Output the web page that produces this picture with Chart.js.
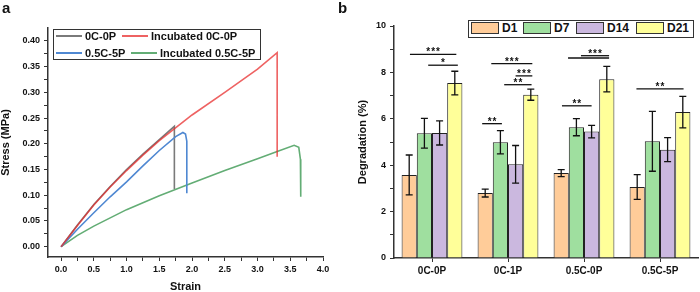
<!DOCTYPE html>
<html>
<head>
<meta charset="utf-8">
<script src="https://cdn.jsdelivr.net/npm/chart.js@4.4.1/dist/chart.umd.min.js"></script>
<style>
body { margin: 0; width: 700px; height: 292px; position: relative; background: #fff; overflow: hidden;
       font-family: "Liberation Sans", Arial, sans-serif; color: #111; }
#pa { position: absolute; left: 0; top: 0; width: 345px; height: 292px; }
#pb { position: absolute; left: 345px; top: 0; width: 355px; height: 292px; }
.tag { position: absolute; font-weight: bold; font-size: 15px; line-height: 15px; }
.box { position: absolute; border: 1.5px solid #333; background: #fff; box-sizing: border-box; }
.it { position: absolute; display: flex; align-items: center; height: 14px; font-weight: bold; white-space: nowrap; }
.ln { display: inline-block; width: 26px; height: 2px; margin-right: 3px; }
.sw { display: inline-block; width: 28px; height: 12px; border: 1px solid #333; box-sizing: border-box; margin-right: 3px; }
</style>
</head>
<body>
<div id="pa"><canvas id="stressChart"></canvas></div>
<div id="pb"><canvas id="degChart"></canvas></div>
<div class="tag" style="left:2px;top:0">a</div>
<div class="tag" style="left:338px;top:0">b</div>

<div class="box" style="left:53px;top:29px;width:208px;height:31px"></div>
<div id="legA"></div>
<div class="box" style="left:468px;top:20px;width:226px;height:18px"></div>
<div id="legB"></div>

<script>
// ---- panel a: stress-strain curves ----
var seriesA = ['0C-0P', 'Incubated 0C-0P', '0.5C-5P', 'Incubated 0.5C-5P'];
var colorsA = ['#7a7a7a', 'rgba(232,45,45,0.75)', '#4f88d2', '#63ad75'];

var grayX = [0, 0.25, 0.5, 0.75, 1.0, 1.25, 1.5, 1.73, 1.73];
var grayY = [0, 0.042, 0.082, 0.117, 0.150, 0.180, 0.208, 0.234, 0.112];
var redX = [0, 0.25, 0.5, 0.75, 1.0, 1.25, 1.5, 2.0, 2.5, 3.0, 3.3, 3.3];
var redY = [0, 0.041, 0.081, 0.116, 0.148, 0.178, 0.206, 0.256, 0.300, 0.345, 0.377, 0.175];
var blueX = [0, 0.25, 0.5, 0.75, 1.0, 1.25, 1.5, 1.75, 1.86, 1.9, 1.92, 1.92];
var blueY = [0, 0.034, 0.066, 0.097, 0.126, 0.157, 0.187, 0.214, 0.222, 0.219, 0.205, 0.104];
var greenX = [0, 0.25, 0.5, 1.0, 1.5, 2.0, 2.5, 3.0, 3.3, 3.56, 3.63, 3.655, 3.66];
var greenY = [0, 0.022, 0.040, 0.072, 0.099, 0.124, 0.148, 0.171, 0.185, 0.197, 0.193, 0.170, 0.097];

var strainTicks = [0, 0.5, 1.0, 1.5, 2.0, 2.5, 3.0, 3.5, 4.0];
var stressTicks = [0, 0.05, 0.10, 0.15, 0.20, 0.25, 0.30, 0.35, 0.40];

// ---- panel b: degradation bars ----
var groups = ['0C-0P', '0C-1P', '0.5C-0P', '0.5C-5P'];
var days = ['D1', 'D7', 'D14', 'D21'];
var barColors = ['#FFCC99', '#9FDF9F', '#CBB8DF', '#FFFF99'];
var d1 = [3.58, 2.80, 3.66, 3.06];
var d7 = [5.38, 4.99, 5.64, 5.03];
var d14 = [5.39, 4.04, 5.45, 4.67];
var d21 = [7.54, 7.04, 7.71, 6.29];
var d1Err = [0.86, 0.17, 0.15, 0.53];
var d7Err = [0.64, 0.50, 0.37, 1.29];
var d14Err = [0.52, 0.81, 0.27, 0.52];
var d21Err = [0.51, 0.24, 0.55, 0.68];
var degTicks = [0, 2, 4, 6, 8, 10];

// significance lines: group index, start/end offset (in category widths), height, stars
var sigGroup = [0, 0, 1, 1, 1, 1, 2, 2, 2, 3];
var sigFrom = [-0.29, -0.05, -0.22, 0.10, -0.05, -0.34, -0.21, -0.04, -0.29, -0.31];
var sigTo = [0.32, 0.34, 0.32, 0.32, 0.31, -0.08, 0.33, 0.33, 0.10, 0.31];
var sigY = [8.78, 8.31, 8.38, 7.85, 7.47, 5.79, 8.62, 8.72, 6.56, 7.29];
var sigText = ['***', '*', '***', '***', '**', '**', '', '***', '**', '**'];

Chart.defaults.font.family = '"Liberation Sans", Arial, sans-serif';
Chart.defaults.color = '#111';

function pts(xs, ys) {
  return xs.map(function (x, i) { return { x: x, y: ys[i] }; });
}
function withMinor(majors) {
  var out = [];
  majors.forEach(function (v, i) {
    out.push({ value: v });
    if (i < majors.length - 1) out.push({ value: (v + majors[i + 1]) / 2 });
  });
  return out;
}
function isMajor(list, v) {
  return list.some(function (m) { return Math.abs(m - v) < 1e-9; });
}

var axisBorder = { display: true, color: '#333', width: 1.5 };
var outTicks = { display: true, drawOnChartArea: false, drawTicks: true, tickLength: 4, color: '#333' };

new Chart(document.getElementById('stressChart'), {
  type: 'scatter',
  data: {
    datasets: [
      { label: seriesA[0], data: pts(grayX, grayY), borderColor: colorsA[0], order: 3 },
      { label: seriesA[1], data: pts(redX, redY), borderColor: colorsA[1], order: 1 },
      { label: seriesA[2], data: pts(blueX, blueY), borderColor: colorsA[2], order: 2 },
      { label: seriesA[3], data: pts(greenX, greenY), borderColor: colorsA[3], order: 4 }
    ].map(function (d) {
      d.showLine = true; d.pointRadius = 0; d.borderWidth = 1.6; d.tension = 0; d.fill = false;
      return d;
    })
  },
  options: {
    animation: false,
    responsive: true,
    maintainAspectRatio: false,
    layout: { padding: { top: 28, right: 22, left: 0, bottom: 0 } },
    plugins: { legend: { display: false }, tooltip: { enabled: false } },
    scales: {
      x: {
        type: 'linear', min: -0.2, max: 4.0,
        afterBuildTicks: function (s) { s.ticks = withMinor(strainTicks); },
        afterFit: function (s) { s.height = 35; },
        ticks: {
          font: { size: 9, weight: 'bold' }, color: '#111', padding: 3, maxRotation: 0, autoSkip: false,
          callback: function (v) { return isMajor(strainTicks, v) ? v.toFixed(1) : ''; }
        },
        grid: outTicks, border: axisBorder,
        title: { display: true, text: 'Strain', font: { size: 11, weight: 'bold', lineHeight: 1 }, padding: 0, color: '#111' }
      },
      y: {
        type: 'linear', min: -0.02, max: 0.425,
        afterBuildTicks: function (s) { s.ticks = withMinor(stressTicks); },
        afterFit: function (s) { s.width = 48; },
        ticks: {
          font: { size: 9, weight: 'bold' }, color: '#111', padding: 4, autoSkip: false,
          callback: function (v) { return isMajor(stressTicks, v) ? v.toFixed(2) : ''; }
        },
        grid: outTicks, border: axisBorder,
        title: { display: true, text: 'Stress (MPa)', font: { size: 11, weight: 'bold', lineHeight: 1 }, padding: 0, color: '#111' }
      }
    }
  }
});

var barVals = [d1, d7, d14, d21];
var barErrs = [d1Err, d7Err, d14Err, d21Err];

var errorBars = {
  id: 'errorBars',
  afterDatasetsDraw: function (chart) {
    var ctx = chart.ctx, y = chart.scales.y;
    ctx.save();
    ctx.strokeStyle = '#111';
    ctx.lineWidth = 1.3;
    chart.data.datasets.forEach(function (ds, i) {
      chart.getDatasetMeta(i).data.forEach(function (bar, j) {
        var v = barVals[i][j], e = barErrs[i][j];
        var top = y.getPixelForValue(v + e), bot = y.getPixelForValue(v - e);
        ctx.beginPath();
        ctx.moveTo(bar.x, top); ctx.lineTo(bar.x, bot);
        ctx.moveTo(bar.x - 3.5, top); ctx.lineTo(bar.x + 3.5, top);
        ctx.moveTo(bar.x - 3.5, bot); ctx.lineTo(bar.x + 3.5, bot);
        ctx.stroke();
      });
    });
    ctx.restore();
  }
};

var sigLines = {
  id: 'sigLines',
  afterDatasetsDraw: function (chart) {
    var ctx = chart.ctx, x = chart.scales.x, y = chart.scales.y;
    var w = x.getPixelForValue(1) - x.getPixelForValue(0);
    ctx.save();
    ctx.strokeStyle = '#111';
    ctx.fillStyle = '#111';
    ctx.lineWidth = 1.3;
    ctx.font = 'bold 10px "Liberation Sans", Arial, sans-serif';
    ctx.textAlign = 'center';
    ctx.textBaseline = 'alphabetic';
    if ('letterSpacing' in ctx) ctx.letterSpacing = '1px';
    sigGroup.forEach(function (g, k) {
      var c = x.getPixelForValue(g);
      var x0 = c + sigFrom[k] * w, x1 = c + sigTo[k] * w, py = y.getPixelForValue(sigY[k]);
      ctx.beginPath();
      ctx.moveTo(x0, py); ctx.lineTo(x1, py);
      ctx.stroke();
      if (sigText[k]) ctx.fillText(sigText[k], (x0 + x1) / 2 + 0.5, py + 1);
    });
    ctx.restore();
  }
};

new Chart(document.getElementById('degChart'), {
  type: 'bar',
  data: {
    labels: groups,
    datasets: days.map(function (d, i) {
      return {
        label: d, data: barVals[i], backgroundColor: barColors[i],
        borderColor: '#222', borderWidth: 1, categoryPercentage: 0.8, barPercentage: 1.0
      };
    })
  },
  options: {
    animation: false,
    responsive: true,
    maintainAspectRatio: false,
    layout: { padding: { top: 26, right: 2, left: 0, bottom: 0 } },
    plugins: { legend: { display: false }, tooltip: { enabled: false } },
    scales: {
      x: {
        afterFit: function (s) { s.height = 34; },
        ticks: { font: { size: 10, weight: 'bold' }, color: '#111', padding: 3, maxRotation: 0 },
        grid: { display: true, drawOnChartArea: false, drawTicks: true, tickLength: 4, color: '#333', offset: false },
        border: axisBorder
      },
      y: {
        min: 0, max: 10,
        afterBuildTicks: function (s) { s.ticks = withMinor(degTicks); },
        afterFit: function (s) { s.width = 49; },
        ticks: {
          font: { size: 9, weight: 'bold' }, color: '#111', padding: 4, autoSkip: false,
          callback: function (v) { return isMajor(degTicks, v) ? String(v) : ''; }
        },
        grid: outTicks, border: axisBorder,
        title: { display: true, text: 'Degradation (%)', font: { size: 11, weight: 'bold', lineHeight: 1 }, padding: { top: 12, bottom: 0 }, color: '#111' }
      }
    }
  },
  plugins: [errorBars, sigLines]
});

// ---- legends ----
var legAPos = [[56, 35.7], [122, 35.7], [56, 53.3], [131, 53.3]];
var legA = document.getElementById('legA');
seriesA.forEach(function (name, i) {
  var el = document.createElement('div');
  el.className = 'it';
  el.style.left = legAPos[i][0] + 'px';
  el.style.top = (legAPos[i][1] - 7) + 'px';
  el.style.fontSize = '11px';
  el.innerHTML = '<span class="ln" style="background:' + colorsA[i] + '"></span>' + name;
  legA.appendChild(el);
});

var legBPos = [471, 523, 576, 636];
var legB = document.getElementById('legB');
days.forEach(function (name, i) {
  var el = document.createElement('div');
  el.className = 'it';
  el.style.left = legBPos[i] + 'px';
  el.style.top = '21px';
  el.style.fontSize = '12px';
  el.innerHTML = '<span class="sw" style="background:' + barColors[i] + '"></span>' + name;
  legB.appendChild(el);
});
</script>
</body>
</html>
